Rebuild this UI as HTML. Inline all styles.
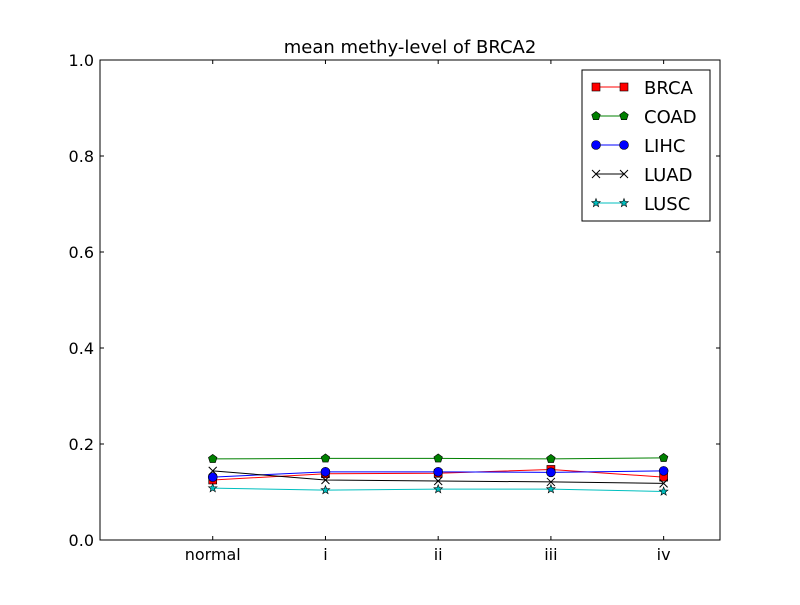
<!DOCTYPE html>
<html><head><meta charset="utf-8"><style>
body{margin:0;background:#fff;}
svg text{font-family:"DejaVu Sans","Liberation Sans",sans-serif;}
</style></head><body>
<svg id="chart" width="800" height="600" xmlns="http://www.w3.org/2000/svg">
<rect width="800" height="600" fill="#fff"/>
<text x="410" y="53" font-size="18" text-anchor="middle">mean methy-level of BRCA2</text>
<g id="marks"></g>
<rect x="100" y="60" width="620" height="480" fill="none" stroke="#000" stroke-width="1"/>
<g id="axes"></g>
<g id="legend"></g>
</svg>
<script>
const categories = ["normal","i","ii","iii","iv"];
const seriesNames = ["BRCA","COAD","LIHC","LUAD","LUSC"];
const brca = [0.125,0.138,0.139,0.147,0.131];
const coad = [0.169,0.170,0.170,0.169,0.171];
const lihc = [0.131,0.142,0.142,0.141,0.144];
const luad = [0.144,0.125,0.123,0.121,0.118];
const lusc = [0.108,0.104,0.106,0.106,0.101];
const yTicks = [0,0.2,0.4,0.6,0.8,1.0];
const yTickLabels = ["0.0","0.2","0.4","0.6","0.8","1.0"];

const NS="http://www.w3.org/2000/svg";
const X=i=>100+(i+1)*620/5.5;
const Y=v=>540-v*480;
function mk(t,a,p){const e=document.createElementNS(NS,t);for(const k in a)e.setAttribute(k,a[k]);p.appendChild(e);return e;}
const axes=document.getElementById('axes'),marks=document.getElementById('marks'),legend=document.getElementById('legend');
yTicks.forEach((v,i)=>{
  const l=mk('line',{x1:100,x2:104,y1:Y(v),y2:Y(v),stroke:'#000'},axes);
  
  const r=mk('line',{x1:716,x2:720,y1:Y(v),y2:Y(v),stroke:'#000'},axes);
  
  const t=mk('text',{x:94,y:Y(v)+6,'font-size':16,'text-anchor':'end'},axes);t.textContent=yTickLabels[i];
  
});
categories.forEach((c,i)=>{
  const l=mk('line',{x1:X(i),x2:X(i),y1:540,y2:536,stroke:'#000'},axes);
  
  const u=mk('line',{x1:X(i),x2:X(i),y1:60,y2:64,stroke:'#000'},axes);
  
  const t=mk('text',{x:X(i),y:560,'font-size':16,'text-anchor':'middle'},axes);t.textContent=c;
  
});
function marker(type,x,y,col,p){
  let e;
  if(type==='s')e=mk('rect',{x:x-4,y:y-4,width:8,height:8,fill:col,stroke:'#000','stroke-width':0.6},p);
  else if(type==='o')e=mk('circle',{cx:x,cy:y,r:4.5,fill:col,stroke:'#000','stroke-width':0.6},p);
  else if(type==='p'){let pts=[];for(let k=0;k<5;k++){const a=-Math.PI/2+k*2*Math.PI/5;pts.push((x+4.5*Math.cos(a))+','+(y+4.5*Math.sin(a)));}e=mk('polygon',{points:pts.join(' '),fill:col,stroke:'#000','stroke-width':0.6},p);}
  else if(type==='x')e=mk('path',{d:`M${x-4},${y-4}L${x+4},${y+4}M${x-4},${y+4}L${x+4},${y-4}`,stroke:'#000','stroke-width':1},p);
  else {let pts=[];for(let k=0;k<10;k++){const a=-Math.PI/2+k*Math.PI/5,r=k%2?1.9:4.5;pts.push((x+r*Math.cos(a))+','+(y+r*Math.sin(a)));}e=mk('polygon',{points:pts.join(' '),fill:col,stroke:'#000','stroke-width':0.6},p);}
  return e;
}
const series=[[brca,'#ff0000','s'],[coad,'#008000','p'],[lihc,'#0000ff','o'],[luad,'#000000','x'],[lusc,'#00bfbf','*']];
series.forEach(([vals,col,m],si)=>{
  const g=mk('g',{},marks);
  
  const pl=mk('polyline',{points:vals.map((v,i)=>X(i)+','+Y(v)).join(' '),fill:'none',stroke:col,'stroke-width':1},g);
  
  vals.forEach((v,i)=>{const e=marker(m,X(i),Y(v),col,g);
    });
});
const box=mk('rect',{x:582,y:70,width:128,height:151,fill:'#fff',stroke:'#000'},legend);

series.forEach(([vals,col,m],si)=>{
  const y=87+si*29;
  const g=mk('g',{},legend);
  
  mk('line',{x1:596,x2:624,y1:y,y2:y,stroke:col},g);
  marker(m,596,y,col,g);marker(m,624,y,col,g);
  const t=mk('text',{x:644,y:y+7,'font-size':18},g);t.textContent=seriesNames[si];
});
</script>
</body></html>
